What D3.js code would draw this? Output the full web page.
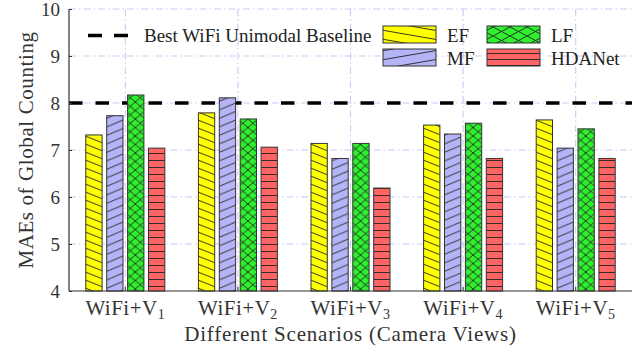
<!DOCTYPE html>
<html>
<head>
<meta charset="utf-8">
<script src="https://cdn.jsdelivr.net/npm/d3@7"></script>
<style>
  html, body { margin: 0; padding: 0; background: #fff; }
  svg { display: block; font-family: "Liberation Serif", "Times New Roman", serif; }
</style>
</head>
<body>
<svg id="chart" width="642" height="358"></svg>
<script>
// Scenario categories (camera view index used as subscript)
const categories = ["1", "2", "3", "4", "5"];
const seriesNames = ["EF", "MF", "LF", "HDANet"];
// MAE values per series, one entry per scenario
const efValues     = [7.32, 7.79, 7.14, 7.53, 7.64];
const mfValues     = [7.73, 8.11, 6.82, 7.34, 7.04];
const lfValues     = [8.17, 7.66, 7.14, 7.57, 7.45];
const hdanetValues = [7.04, 7.06, 6.19, 6.82, 6.82];
const baselineValue = 8.0;
const yTicks = [4, 5, 6, 7, 8, 9, 10];

const seriesValues = [efValues, mfValues, lfValues, hdanetValues];
const fills = ["#ffff00", "#b4b4f6", "#2ff02f", "#ff6464"];
const hatch = ["back", "fwd", "cross", "horiz"];

const svg = d3.select("#chart");
const m = { left: 69, right: 632, top: 9, bottom: 291 };

const x0 = d3.scaleBand().domain(categories).range([m.left, m.right]).padding(0);
const x1 = d3.scaleBand().domain(seriesNames).range([-39.5, 39.5]).paddingInner(0.22).paddingOuter(0);
const y = d3.scaleLinear().domain([4, 10]).range([m.bottom, m.top]);

// Hatch patterns
const defs = svg.append("defs");
function makePattern(id, kind, fill, w, h) {
  const p = defs.append("pattern").attr("id", id)
    .attr("patternUnits", "userSpaceOnUse").attr("width", w).attr("height", h);
  p.append("rect").attr("width", w).attr("height", h).attr("fill", fill);
  let d;
  if (kind === "back") {
    d = `M${-w},${-h}L${2*w},${2*h}M0,${-h}L${2*w},${h}M${-w},0L${w},${2*h}`;
  } else if (kind === "fwd") {
    d = `M${-w},${2*h}L${2*w},${-h}M${-w},${h}L${w},${-h}M0,${2*h}L${2*w},0`;
  } else if (kind === "cross") {
    d = `M0,0L${w},${h}M0,${h}L${w},0M${-w},0L${w},${2*h}M0,${-h}L${2*w},${h}`;
  } else {
    d = `M0,${h - 0.5}L${w},${h - 0.5}`;
  }
  p.append("path").attr("d", d).attr("stroke", "#222").attr("stroke-width", 0.9).attr("fill", "none");
}
const barTiles = [[20, 8], [20, 8.5], [10, 8.5], [10, 7]];
const legTiles = [[52, 9], [52, 9], [17, 9], [10, 6]];
seriesNames.forEach((s, i) => {
  makePattern("bar-" + i, hatch[i], fills[i], barTiles[i][0], barTiles[i][1]);
  makePattern("leg-" + i, hatch[i], fills[i], legTiles[i][0], legTiles[i][1]);
});

// Grid (dash-dot, light blue)
const gridColor = "#cacaf6";
const grid = svg.append("g");
grid.selectAll("line.h").data(yTicks.filter(t => t > 4)).join("line")
  .attr("x1", m.left).attr("x2", m.right)
  .attr("y1", d => y(d)).attr("y2", d => y(d))
  .attr("stroke", gridColor).attr("stroke-width", 1.1)
  .attr("stroke-dasharray", "7,3,1.5,3");
grid.selectAll("line.v").data(categories).join("line")
  .attr("x1", d => x0(d) + x0.bandwidth() / 2).attr("x2", d => x0(d) + x0.bandwidth() / 2)
  .attr("y1", m.top).attr("y2", m.bottom)
  .attr("stroke", gridColor).attr("stroke-width", 1.1)
  .attr("stroke-dasharray", "7,3,1.5,3");

// Baseline reference line
svg.append("line")
  .attr("x1", m.left).attr("x2", m.right)
  .attr("y1", y(baselineValue)).attr("y2", y(baselineValue))
  .attr("stroke", "#000").attr("stroke-width", 3.5)
  .attr("stroke-dasharray", "13.5,13");

// Bars
const groups = svg.append("g").selectAll("g").data(categories).join("g")
  .attr("transform", d => `translate(${x0(d) + x0.bandwidth() / 2},0)`);
groups.selectAll("rect").data((d, ci) => seriesNames.map((s, si) => ({ s, si, v: seriesValues[si][ci] })))
  .join("rect")
  .attr("x", d => x1(d.s))
  .attr("width", x1.bandwidth())
  .attr("y", d => y(d.v))
  .attr("height", d => y(4) - y(d.v))
  .attr("fill", d => `url(#bar-${d.si})`)
  .attr("stroke", "#333").attr("stroke-width", 1);

// Axes
const axisColor = "#333";
const yAxis = svg.append("g").attr("transform", `translate(${m.left},0)`)
  .call(d3.axisLeft(y).tickValues(yTicks).tickSize(-3).tickPadding(9).tickFormat(d3.format("d")));
yAxis.select(".domain").attr("stroke", axisColor).attr("stroke-width", 1.2).attr("d", `M0,${m.top}V${m.bottom}`);
yAxis.selectAll(".tick line").attr("stroke", axisColor);
yAxis.selectAll(".tick text").attr("font-size", 19).attr("fill", "#333")
  .attr("font-family", "Liberation Serif, serif");

const xAxis = svg.append("g").attr("transform", `translate(0,${m.bottom})`)
  .call(d3.axisBottom(x0).tickSize(-4).tickFormat(""));
xAxis.select(".domain").attr("stroke", axisColor).attr("stroke-width", 1.2).attr("d", `M${m.left},0H${m.right}`);
xAxis.selectAll(".tick line").attr("stroke", axisColor);

// Category labels with subscript view index
const xl = svg.append("g").selectAll("text").data(categories).join("text")
  .attr("x", d => x0(d) + x0.bandwidth() / 2)
  .attr("y", 315)
  .attr("text-anchor", "middle")
  .attr("font-size", 21).attr("letter-spacing", 0.5).attr("fill", "#333");
xl.append("tspan").text("WiFi+V");
xl.append("tspan").text(d => d).attr("font-size", 14).attr("dy", 4);

// Axis titles
svg.append("text").attr("x", (m.left + m.right) / 2).attr("y", 341)
  .attr("text-anchor", "middle").attr("font-size", 21).attr("letter-spacing", 0.8).attr("fill", "#333")
  .text("Different Scenarios (Camera Views)");
svg.append("text").attr("transform", `translate(33,${(m.top + m.bottom) / 2}) rotate(-90)`)
  .attr("text-anchor", "middle").attr("font-size", 21).attr("letter-spacing", 0.6).attr("fill", "#333")
  .text("MAEs of Global Counting");

// Legend
const leg = svg.append("g");
leg.append("line").attr("x1", 88).attr("x2", 128).attr("y1", 35.5).attr("y2", 35.5)
  .attr("stroke", "#000").attr("stroke-width", 3.5).attr("stroke-dasharray", "14,12");
leg.append("text").attr("x", 144).attr("y", 42).attr("font-size", 19).attr("fill", "#222")
  .text("Best WiFi Unimodal Baseline");
const legPos = [[383, 26], [383, 49], [487, 26], [487, 49]];
seriesNames.forEach((s, i) => {
  leg.append("rect").attr("x", legPos[i][0]).attr("y", legPos[i][1])
    .attr("width", 53).attr("height", 17)
    .attr("fill", `url(#leg-${i})`).attr("stroke", "#333").attr("stroke-width", 1);
  leg.append("text").attr("x", legPos[i][0] + 64).attr("y", legPos[i][1] + 16)
    .attr("font-size", 19).attr("fill", "#222").text(s);
});
</script>
</body>
</html>
